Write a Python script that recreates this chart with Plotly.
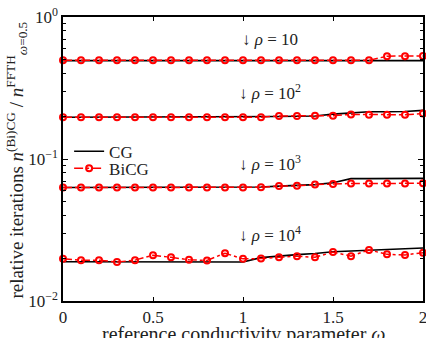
import math
import plotly.graph_objects as go

omega = [0.0, 0.1, 0.2, 0.3, 0.4, 0.5, 0.6, 0.7, 0.8, 0.9, 1.0,
         1.1, 1.2, 1.3, 1.4, 1.5, 1.6, 1.7, 1.8, 1.9, 2.0]

cg_rho1 = [0.493, 0.493, 0.493, 0.493, 0.493, 0.493, 0.493, 0.493, 0.493, 0.493, 0.493,
           0.493, 0.493, 0.493, 0.493, 0.493, 0.493, 0.493, 0.493, 0.493, 0.493]
bicg_rho1 = [0.495, 0.495, 0.495, 0.495, 0.495, 0.495, 0.495, 0.495, 0.495, 0.495, 0.495,
             0.495, 0.495, 0.495, 0.495, 0.495, 0.495, 0.495, 0.530, 0.530, 0.532]

cg_rho2 = [0.197, 0.197, 0.197, 0.197, 0.197, 0.197, 0.197, 0.197, 0.197, 0.197, 0.197,
           0.197, 0.199, 0.200, 0.201, 0.207, 0.212, 0.215, 0.215, 0.216, 0.220]
bicg_rho2 = [0.197, 0.197, 0.197, 0.197, 0.197, 0.197, 0.197, 0.197, 0.197, 0.197, 0.197,
             0.197, 0.201, 0.201, 0.202, 0.202, 0.206, 0.205, 0.205, 0.205, 0.209]

cg_rho3 = [0.0630, 0.0630, 0.0630, 0.0630, 0.0630, 0.0630, 0.0630, 0.0630, 0.0630, 0.0630, 0.0630,
           0.0635, 0.0644, 0.0650, 0.0660, 0.0680, 0.0727, 0.0727, 0.0727, 0.0727, 0.0730]
bicg_rho3 = [0.0630, 0.0630, 0.0630, 0.0630, 0.0630, 0.0630, 0.0630, 0.0630, 0.0630, 0.0630, 0.0630,
             0.0632, 0.0645, 0.0647, 0.0660, 0.0667, 0.0672, 0.0672, 0.0672, 0.0672, 0.0675]

cg_rho4 = [0.0189, 0.0189, 0.0189, 0.0188, 0.0188, 0.0188, 0.0188, 0.0188, 0.0188, 0.0188, 0.0188,
           0.0202, 0.0208, 0.0212, 0.0216, 0.0222, 0.0225, 0.0228, 0.0231, 0.0233, 0.0236]
bicg_rho4 = [0.0198, 0.0194, 0.0194, 0.0188, 0.0194, 0.0210, 0.0203, 0.0195, 0.0193, 0.0217, 0.0198,
             0.0199, 0.0203, 0.0207, 0.0203, 0.0221, 0.0207, 0.0229, 0.0213, 0.0211, 0.0219]

cg_series = [cg_rho1, cg_rho2, cg_rho3, cg_rho4]
bicg_series = [bicg_rho1, bicg_rho2, bicg_rho3, bicg_rho4]

rho_labels = ["↓ <i>ρ</i> = 10", "↓ <i>ρ</i> = 10<sup>2</sup>",
              "↓ <i>ρ</i> = 10<sup>3</sup>", "↓ <i>ρ</i> = 10<sup>4</sup>"]
label_y = [0.689, 0.296, 0.0937, 0.0296]
label_x = 1.15

xtick_vals = [0, 0.5, 1, 1.5, 2]
xtick_text = ["0", "0.5", "1", "1.5", "2"]
ytick_vals = [0.01, 0.1, 1]
ytick_text = ["10<sup>−2</sup>", "10<sup>−1</sup>", "10<sup>0</sup>"]
minor_vals = [0.02, 0.03, 0.04, 0.05, 0.06, 0.07, 0.08, 0.09,
              0.2, 0.3, 0.4, 0.5, 0.6, 0.7, 0.8, 0.9]

FONT = "Liberation Serif, Times New Roman, serif"
TXT = "#222"

fig = go.Figure()
for i, (cg, bi) in enumerate(zip(cg_series, bicg_series)):
    fig.add_trace(go.Scatter(
        x=omega, y=cg, mode="lines", name="CG", legend="legend",
        line=dict(color="black", width=1.6),
        showlegend=(i == 0), cliponaxis=False))
    fig.add_trace(go.Scatter(
        x=omega, y=bi, mode="lines+markers", name="BiCG", legend="legend2",
        line=dict(color="red", width=1.5, dash="dashdot"),
        marker=dict(symbol="circle-open", size=6, color="red", line=dict(width=2)),
        showlegend=(i == 0), cliponaxis=False))

for txt, yv in zip(rho_labels, label_y):
    fig.add_annotation(x=label_x, y=math.log10(yv), yref="y", xref="x", text=txt,
                       showarrow=False, font=dict(family=FONT, size=17, color=TXT),
                       xanchor="center", yanchor="middle")

# axis titles
fig.add_annotation(x=0.5, y=-0.118, xref="paper", yref="paper",
                   text="reference conductivity parameter <i>ω</i>",
                   showarrow=False, font=dict(family=FONT, size=20, color=TXT),
                   xanchor="center", yanchor="middle")
fig.add_annotation(x=-0.13, y=0.495, xref="paper", yref="paper", textangle=-90,
                   text="relative iterations <i>n</i><sup>(Bi)CG</sup> / <i>n</i><sup>FFTH</sup><sub><i>ω</i>=0.5</sub>",
                   showarrow=False, font=dict(family=FONT, size=19, color=TXT),
                   xanchor="center", yanchor="middle")

leg_common = dict(xanchor="left", yanchor="top", bgcolor="rgba(0,0,0,0)",
                  font=dict(family=FONT, size=17, color=TXT), itemwidth=30)
fig.update_layout(
    width=426, height=338,
    margin=dict(l=63, r=3, t=17, b=37, autoexpand=False),
    paper_bgcolor="white", plot_bgcolor="white",
    font=dict(family=FONT, size=16, color=TXT),
    legend=dict(x=0.017, y=0.589, **leg_common),
    legend2=dict(x=0.017, y=0.529, **leg_common),
    showlegend=True,
)
fig.update_xaxes(
    range=[0, 2], tickvals=xtick_vals, ticktext=xtick_text,
    ticks="inside", ticklen=4, tickcolor="black", mirror="allticks",
    showline=True, linecolor="black", linewidth=1.5, showgrid=False, zeroline=False,
    tickfont=dict(family=FONT, size=17, color=TXT), automargin=False,
    ticklabeloverflow="allow",
)
fig.update_yaxes(
    type="log", range=[-2, 0], tickvals=ytick_vals, ticktext=ytick_text,
    ticks="inside", ticklen=5, tickcolor="black", mirror="allticks",
    showline=True, linecolor="black", linewidth=1.5, showgrid=False, zeroline=False,
    minor=dict(ticks="inside", ticklen=3, tickcolor="black", showgrid=False,
               tickvals=minor_vals),
    tickfont=dict(family=FONT, size=17, color=TXT), automargin=False,
    ticklabeloverflow="allow",
)

fig.write_html("out.html", config={"displayModeBar": False},
               post_script="document.body.style.margin='0';document.body.style.overflow='hidden';")
